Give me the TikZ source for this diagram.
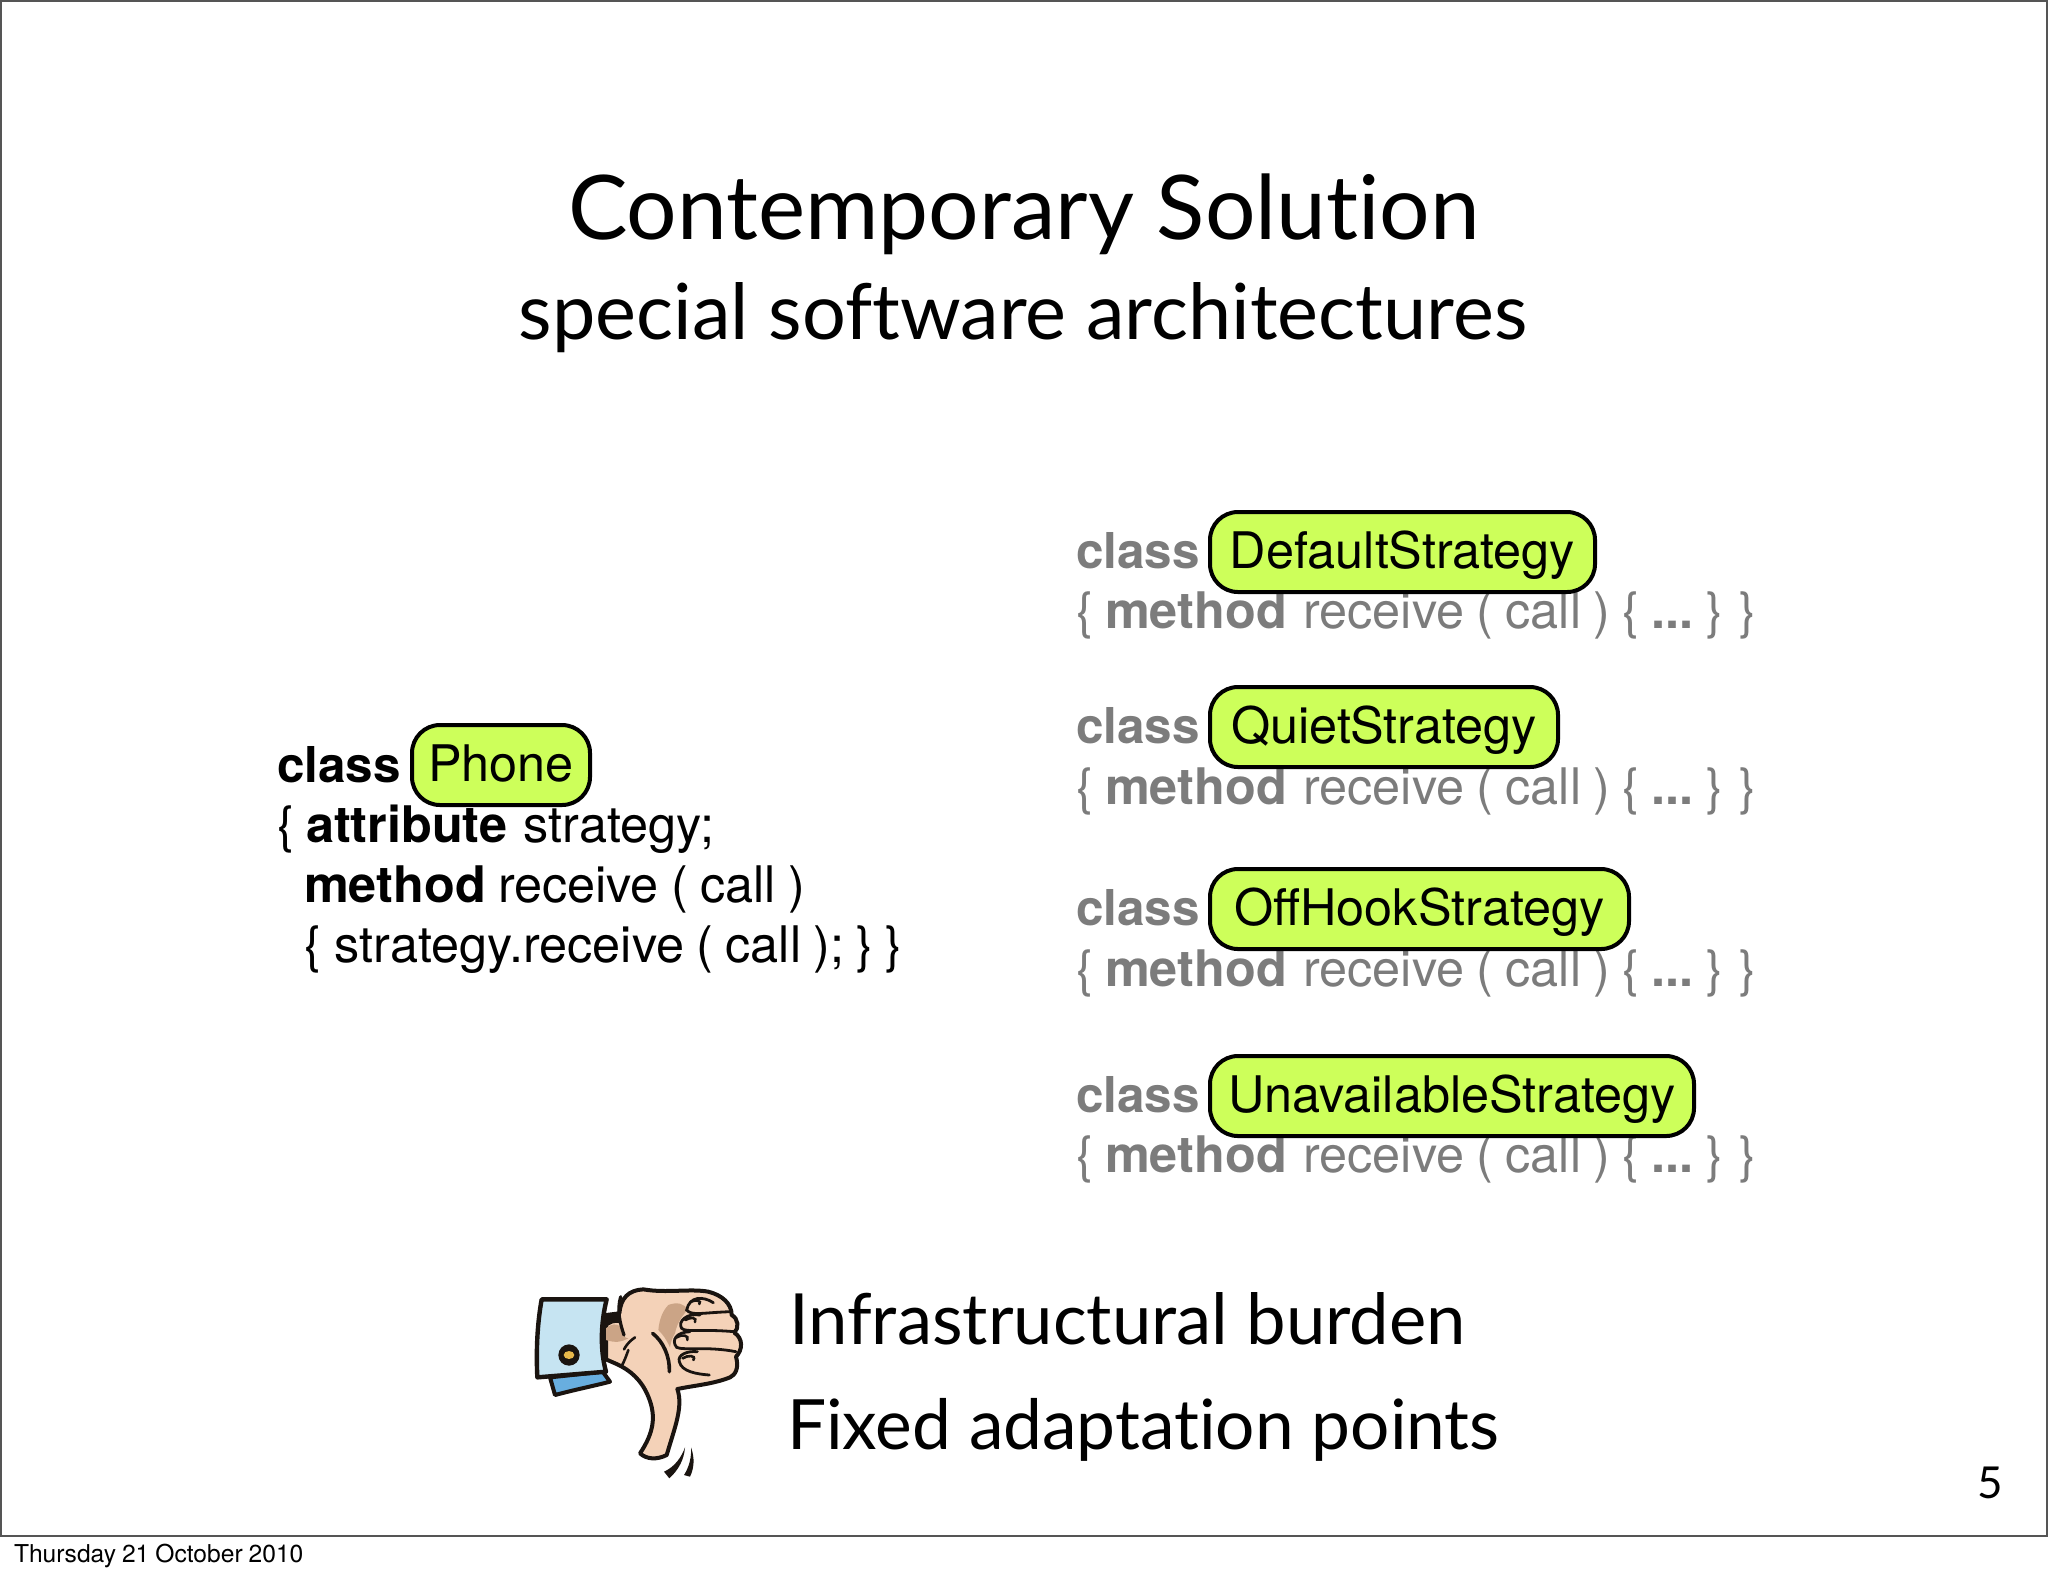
\documentclass[tikz,border=0pt]{standalone}
\usepackage{fontspec}
\setmainfont[WordSpace=0.88]{TeX Gyre Heros}
\newfontfamily\gill[Ligatures=NoCommon]{Lato}
\definecolor{lime}{HTML}{CDFF5A}
\definecolor{graytxt}{HTML}{7C7C7C}
\definecolor{frameline}{HTML}{555555}
\definecolor{skin}{HTML}{F4D2B8}
\definecolor{palmdark}{HTML}{CBA486}
\definecolor{cuffblue}{HTML}{C6E4F2}
\definecolor{underblue}{HTML}{68AEDF}
\definecolor{ink}{HTML}{1A1410}
\definecolor{gold}{HTML}{E8B84A}
\tikzset{
  every node/.style={inner sep=0pt,outer sep=0pt},
  code/.style={anchor=base west,font=\fontsize{25.2}{28}\selectfont,text=black},
  grey/.style={code,text=graytxt},
  classword/.style={anchor=base west,font=\bfseries\fontsize{24.7}{28}\selectfont},
  greenbox/.style={draw=black,line width=2pt,fill=lime,rounded corners=14pt,anchor=base,
    font=\fontsize{25.2}{28}\selectfont,text=black,text height=28pt,text depth=12pt},
  heading/.style={anchor=base,font=\gill\fontsize{44.6}{50}\selectfont},
  sub/.style={anchor=base,font=\gill\fontsize{38.7}{44}\selectfont},
  point/.style={anchor=base west,font=\gill\fontsize{35.3}{44}\selectfont},
  pointb/.style={anchor=base west,font=\gill\fontsize{34.7}{44}\selectfont},
  hand/.style={draw=ink,line width=2pt,line join=round,line cap=round},
  crease/.style={draw=ink,line width=1.3pt,line cap=round},
}
\begin{document}
\begin{tikzpicture}[x=0.5pt,y=-0.5pt]
\useasboundingbox (0,0) rectangle (2048,1576);
\fill[white] (0,0) rectangle (2048,1576);
\draw[frameline,line width=1pt] (1,1) -- (2047,1) -- (2047,1536) -- (1,1536) -- cycle;

\node[heading] (title) at (1024,239) {Contemporary Solution};
\node[sub] (subtitle) at (1023,339) {special software architectures};

% left class
\node[classword] (l1) at (277,782) {class};
\node[greenbox,minimum width=178*0.5pt] (phone) at (501,781) {Phone};
\node[code] (l2) at (277,842) {\{ \textbf{attribute}\kern2pt{} strategy;};
\node[code] (l3) at (304,902) {\textbf{method} receive ( call )};
\node[code] (l4) at (304,962) {\{\kern0.8pt{} strategy.receive ( call ); \} \}};

% strategies
\foreach \nm/\yy/\yb in {a/568/628,b/743/804,c/925/986,d/1112/1172}{
  \node[classword,text=graytxt] (cl\nm) at (1076,\yy) {class};
  \node[grey] (me\nm) at (1076,\yb) {\{ \textbf{method}\kern2pt{} receive ( call ) \{ \textbf{...} \kern-2pt\} \kern-0.7pt\}};
}
\node[greenbox,minimum width=385*0.5pt] (bxa) at (1402.5,568) {DefaultStrategy};
\node[greenbox,minimum width=348*0.5pt] (bxb) at (1384,743) {QuietStrategy};
\node[greenbox,minimum width=419*0.5pt] (bxc) at (1419.5,925) {OffHookStrategy};
\node[greenbox,minimum width=484*0.5pt] (bxd) at (1452,1112) {UnavailableStrategy};

% bottom
\node[point] (p1) at (789,1344) {Infrastructural burden};
\node[pointb] (p2) at (787,1449) {Fixed adaptation points};
\node[anchor=base,font=\gill\fontsize{22}{26}\selectfont] (pg) at (1990,1498) {5};
\node[anchor=base west,font=\fontsize{12.3}{15}\selectfont] (date) at (14,1562) {Thursday 21 October 2010};

% thumbs-down hand
\begin{scope}[shift={(500,1260)},x=0.16667pt,y=-0.16667pt]
  % under cuff
  \path[hand,fill=underblue] (150,352) -- (165,405) .. controls (220,390) and (280,378) .. (330,365) -- (308,335) -- cycle;
  % hand
  \path[hand,fill=skin] (318,165) -- (358,160) .. controls (362,115) and (385,90) .. (430,88)
    .. controls (500,100) and (570,85) .. (625,95)
    .. controls (665,105) and (695,130) .. (695,165)
    .. controls (715,175) and (718,205) .. (703,218)
    .. controls (730,235) and (728,270) .. (708,290)
    .. controls (718,325) and (705,345) .. (690,352)
    .. controls (640,372) and (590,375) .. (532,387)
    .. controls (550,440) and (525,500) .. (500,585)
    .. controls (470,600) and (440,598) .. (420,580)
    .. controls (460,520) and (470,470) .. (445,410)
    .. controls (425,360) and (390,330) .. (350,312)
    -- (318,298) -- cycle;
  % wrist shadow
  \fill[ink] (318,165) -- (358,160) -- (362,190) .. controls (345,185) and (330,190) .. (315,205) -- cycle;
  \fill[palmdark] (318,205) .. controls (335,190) and (350,190) .. (362,200) .. controls (365,225) and (375,235) .. (385,235) .. controls (365,245) and (350,250) .. (318,240) -- cycle;
  % palm shading
  \fill[palmdark] (505,135) .. controls (530,125) and (555,130) .. (562,150)
    .. controls (540,175) and (530,195) .. (525,220) .. controls (515,235) and (512,250) .. (510,262)
    .. controls (500,240) and (490,225) .. (475,210) .. controls (478,175) and (490,150) .. (505,135) -- cycle;
  % creases
  \draw[crease,line width=1.6pt] (362,110) .. controls (350,150) and (360,190) .. (372,225);
  \draw[crease] (372,268) .. controls (385,245) and (395,240) .. (405,232);
  \draw[crease,line width=1.8pt] (458,220) .. controls (490,245) and (510,290) .. (508,335);
  \draw[crease] (385,270) .. controls (378,290) and (372,305) .. (365,318);
  % fingers
  \draw[crease,line width=1.4pt] (640,128) .. controls (610,108) and (568,108) .. (560,150)
    .. controls (575,168) and (605,158) .. (690,155);
  \draw[crease,line width=1.4pt] (600,165) .. controls (560,158) and (532,185) .. (545,205)
    .. controls (560,218) and (600,206) .. (703,215);
  \draw[crease,line width=1.4pt] (570,215) .. controls (530,216) and (512,240) .. (530,262)
    .. controls (550,272) and (620,258) .. (708,275);
  \draw[crease,line width=1.4pt] (592,275) .. controls (560,272) and (532,285) .. (538,305)
    .. controls (545,335) and (590,342) .. (628,345);
  \draw[crease] (572,125) .. controls (590,118) and (605,122) .. (598,132);
  \draw[crease] (556,180) .. controls (572,170) and (592,172) .. (585,186);
  \draw[crease] (530,232) .. controls (545,222) and (568,225) .. (562,240);
  \draw[crease] (548,295) .. controls (562,285) and (590,285) .. (580,300);
  % cuff
  \path[hand,fill=cuffblue,line width=2.2pt] (125,118) -- (320,118) .. controls (302,190) and (300,270) .. (318,335)
     -- (112,352) .. controls (108,270) and (112,190) .. (125,118) -- cycle;
  \fill[ink] (207,285) circle[radius=32];
  \fill[gold] (207,285) ellipse[x radius=16,y radius=12];
  % motion marks
  \fill[ink] (492,635) .. controls (525,620) and (545,590) .. (555,562) .. controls (552,600) and (535,630) .. (508,655) -- cycle;
  \fill[ink] (552,645) .. controls (568,620) and (575,590) .. (573,562) .. controls (585,595) and (582,625) .. (570,650) -- cycle;
\end{scope}
\end{tikzpicture}
\end{document}
